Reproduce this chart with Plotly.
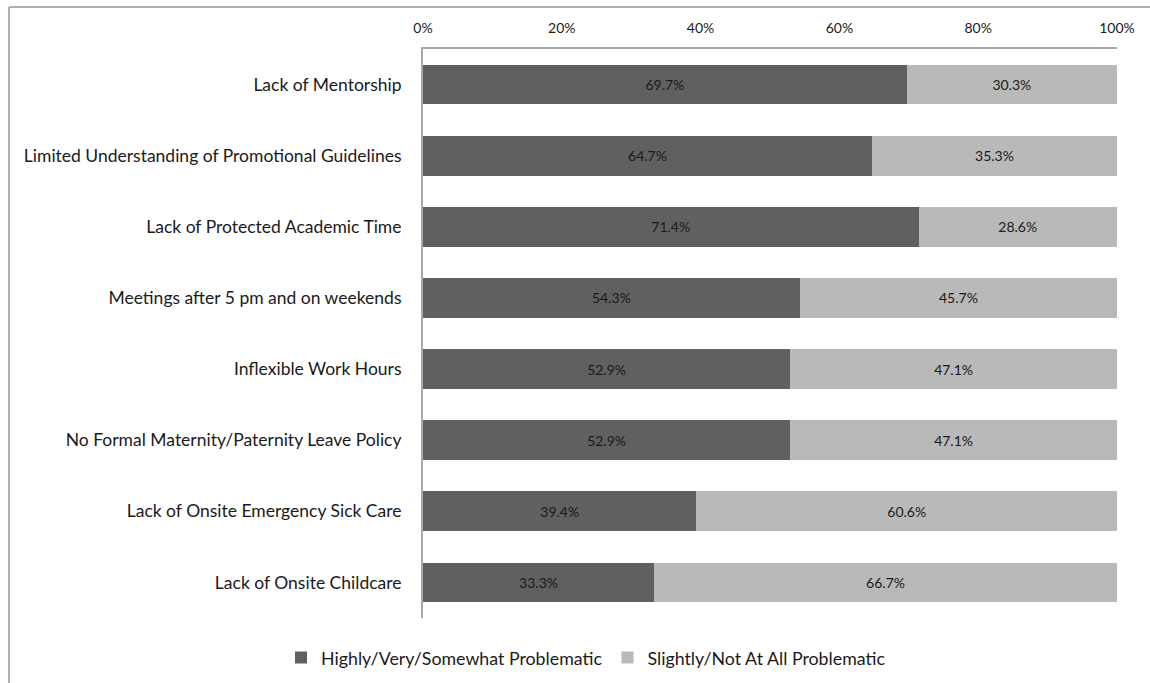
import plotly.graph_objects as go

categories = [
    "Lack of Mentorship",
    "Limited Understanding of Promotional Guidelines",
    "Lack of Protected Academic Time",
    "Meetings after 5 pm and on weekends",
    "Inflexible Work Hours",
    "No Formal Maternity/Paternity Leave Policy",
    "Lack of Onsite Emergency Sick Care",
    "Lack of Onsite Childcare",
]
highly = [69.7, 64.7, 71.4, 54.3, 52.9, 52.9, 39.4, 33.3]
slightly = [30.3, 35.3, 28.6, 45.7, 47.1, 47.1, 60.6, 66.7]
series_names = ["Highly/Very/Somewhat Problematic", "Slightly/Not At All Problematic"]
x_ticks = [0, 20, 40, 60, 80, 100]

W, H = 1150, 683
L, R, T, B = 423, 33, 49, 65
pw, ph = W - L - R, H - T - B

def px(x):
    return (x - L) / pw

def py(y):
    return (H - B - y) / ph

FONT = "Lato, 'Open Sans', sans-serif"
TXT = "#1a1a1a"

fig = go.Figure()
for name, vals, col in [(series_names[0], highly, "#606060"), (series_names[1], slightly, "#b9b9b9")]:
    fig.add_trace(go.Bar(
        y=categories, x=vals, name=name, orientation="h",
        marker=dict(color=col, line=dict(width=0)),
        text=[f"{v:.1f}%" for v in vals], textposition="inside",
        insidetextanchor="middle",
        textfont=dict(size=14, color=TXT, family=FONT),
        hoverinfo="skip",
    ))

fig.update_layout(
    width=W, height=H, barmode="stack", bargap=0.44,
    margin=dict(l=L, r=R, t=T, b=B, autoexpand=False),
    paper_bgcolor="white", plot_bgcolor="white",
    font=dict(family=FONT, color=TXT),
    uniformtext=dict(minsize=8, mode="show"),
    xaxis=dict(
        side="top", range=[0, 100], tickvals=x_ticks,
        ticktext=[f"{t}%" for t in x_ticks],
        showgrid=False, zeroline=False, showline=True,
        linecolor="#a8a8a8", linewidth=2,
        ticks="outside", ticklen=8, tickcolor="rgba(0,0,0,0)",
        tickfont=dict(size=14, color=TXT),
    ),
    yaxis=dict(
        autorange="reversed", showgrid=False, zeroline=False,
        showline=True, linecolor="#a8a8a8", linewidth=2,
        ticks="outside", ticklen=16, tickcolor="rgba(0,0,0,0)",
        tickfont=dict(size=17.5, color=TXT),
    ),
    legend=dict(
        orientation="h", x=px(586), xanchor="center", y=py(658), yanchor="middle",
        font=dict(size=17.8, color=TXT), traceorder="normal",
    ),
    showlegend=True,
)

fig.add_shape(type="line", xref="paper", yref="paper",
              x0=px(9), x1=px(9), y0=py(7), y1=py(H + 5),
              line=dict(color="#b0b0b0", width=2))
fig.add_shape(type="line", xref="paper", yref="paper",
              x0=px(9), x1=px(W + 5), y0=py(7), y1=py(7),
              line=dict(color="#b0b0b0", width=2))

fig.write_html("out.html")
